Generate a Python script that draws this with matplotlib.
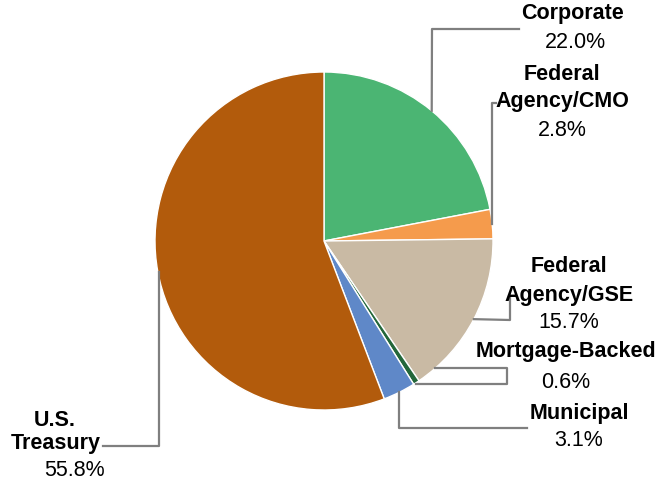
import numpy as np
import matplotlib
matplotlib.use("Agg")
import matplotlib.pyplot as plt

# Portfolio allocation by sector
sectors = ["Corporate", "Federal\nAgency/CMO", "Federal\nAgency/GSE",
           "Mortgage-Backed", "Municipal", "U.S.\nTreasury"]
shares = [22.0, 2.8, 15.7, 0.6, 3.1, 55.8]
colors = ["#4bb573", "#f59b4c", "#c9baa4", "#23673a", "#5f88c8", "#b25b0c"]

W, H = 662, 482
cx, cy, r = 324, H - 241, 169

plt.rcParams['font.family'] = ['Liberation Sans', 'DejaVu Sans']
fig = plt.figure(figsize=(W / 100, H / 100), dpi=100)
ax = fig.add_axes([0, 0, 1, 1])
ax.axis('off')

wedges, _ = ax.pie(shares, colors=colors, startangle=90, counterclock=False,
                   center=(cx, cy), radius=r,
                   wedgeprops=dict(edgecolor='white', linewidth=1.0))
ax.set_xlim(0, W)
ax.set_ylim(0, H)
ax.set_aspect('equal')


def y(v):
    return H - v


# anchor point at the middle of each wedge's arc
anchors = []
for w in wedges:
    a = np.deg2rad((w.theta1 + w.theta2) / 2)
    anchors.append((cx + r * np.cos(a), cy + r * np.sin(a)))

lc = "#7f7f7f"
lw = 1.6
# leader lines (elbows in pixel coords, top-origin)
ax_, ay_ = anchors[0]
ax.plot([ax_, 432, 519], [ay_, y(29), y(29)], color=lc, lw=lw)
ax_, ay_ = anchors[1]
ax.plot([492, 492, 496], [ay_, y(103), y(103)], color=lc, lw=lw)
ax_, ay_ = anchors[2]
ax.plot([ax_, 510, 510], [ay_, y(320), y(297)], color=lc, lw=lw)
ax_, ay_ = anchors[3]
ax.plot([ax_, 507, 507, 435], [y(384), y(384), y(368), y(368)], color=lc, lw=lw)
ax_, ay_ = anchors[4]
ax.plot([399, 399, 527], [ay_, y(428), y(428)], color=lc, lw=lw)
ax_, ay_ = anchors[5]
ax.plot([159, 159, 103], [ay_, y(446), y(446)], color=lc, lw=lw)

fs = 15.5
# label positions: (name lines x, y list), percentage (x, y)
label_pos = [
    ([(573, 14)], (575, 42)),
    ([(562, 75), (562, 102)], (562, 130)),
    ([(569, 267), (569, 295)], (569, 322)),
    ([(566, 352)], (566, 382)),
    ([(579, 413)], (579, 440)),
    ([(55, 420), (56, 443)], (74, 470)),
]
for name, pct, (lines, (px, py)) in zip(sectors, shares, label_pos):
    for txt, (tx, ty) in zip(name.split("\n"), lines):
        ax.text(tx, y(ty), txt, ha='center', va='center', fontsize=fs,
                fontweight='bold', color='black')
    ax.text(px, y(py), f"{pct:.1f}%", ha='center', va='center', fontsize=fs,
            color='black')

fig.savefig("out.png", dpi=100)
